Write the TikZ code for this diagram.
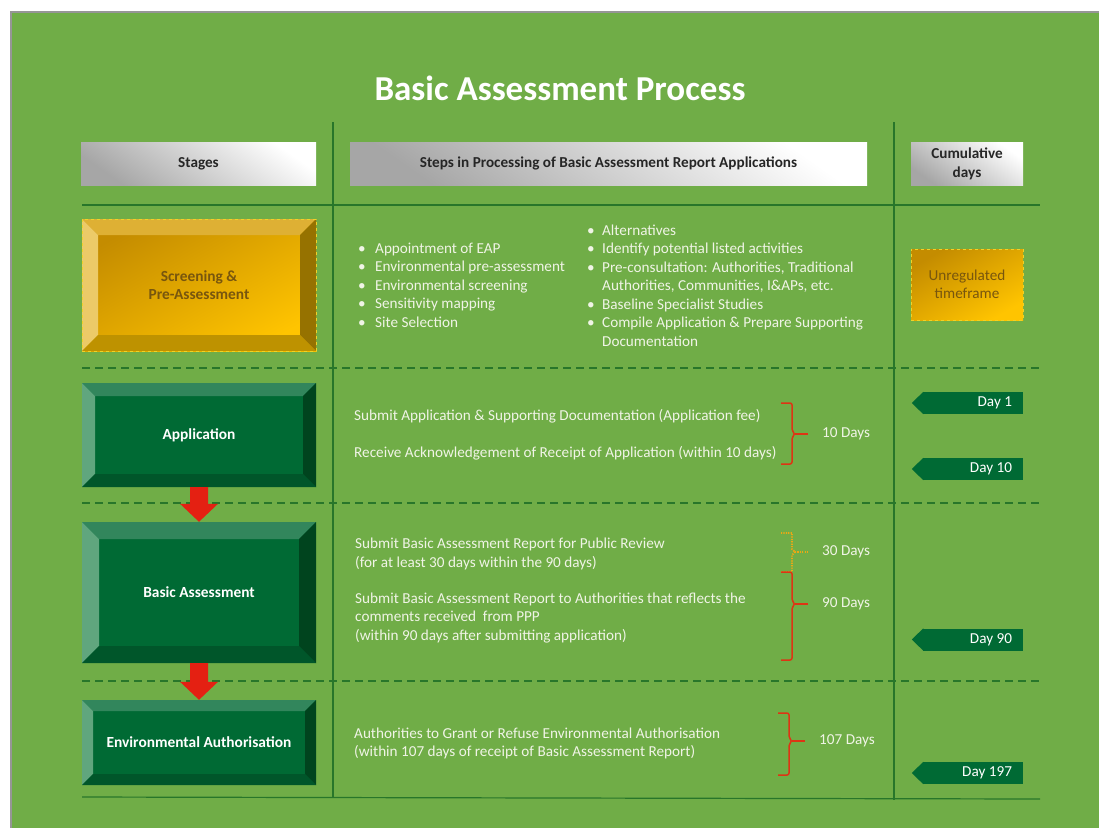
\documentclass[tikz,border=0pt]{standalone}
\usepackage{fontspec}
\setmainfont{Carlito}
\usetikzlibrary{calc}

\definecolor{bggreen}{RGB}{112,173,71}
\definecolor{framegray}{RGB}{150,150,150}
\definecolor{rulegreen}{RGB}{40,118,42}
\definecolor{stageface}{RGB}{0,106,52}
\definecolor{bvgtop}{RGB}{50,134,92}
\definecolor{bvgleft}{RGB}{96,166,126}
\definecolor{bvgright}{RGB}{0,68,30}
\definecolor{bvgbottom}{RGB}{0,86,42}
\definecolor{goldtl}{RGB}{196,140,0}
\definecolor{goldbr}{RGB}{255,196,0}
\definecolor{bvytop}{RGB}{222,176,52}
\definecolor{bvyleft}{RGB}{236,202,104}
\definecolor{bvyright}{RGB}{150,114,0}
\definecolor{bvybottom}{RGB}{190,146,0}
\definecolor{golddash}{RGB}{240,210,40}
\definecolor{goldtext}{RGB}{120,86,14}
\definecolor{headtext}{RGB}{38,38,38}
\definecolor{steptext}{RGB}{240,244,230}
\definecolor{arrowred}{RGB}{228,32,18}
\definecolor{bracered}{RGB}{222,52,20}
\definecolor{dotorange}{RGB}{236,168,20}

\newcommand\bl[1][16pt]{\makebox[#1][l]{\textbullet}}
\newcommand\bevelsides[5]{%
	\fill[#2] (path picture bounding box.north west) -- (path picture bounding box.north east) -- ([shift={(-#1,#1)}]path picture bounding box.north east) -- ([shift={(#1,#1)}]path picture bounding box.north west) -- cycle;
	\fill[#3] (path picture bounding box.north west) -- ([shift={(#1,#1)}]path picture bounding box.north west) -- ([shift={(#1,-#1)}]path picture bounding box.south west) -- (path picture bounding box.south west) -- cycle;
	\fill[#4] (path picture bounding box.north east) -- ([shift={(-#1,#1)}]path picture bounding box.north east) -- ([shift={(-#1,-#1)}]path picture bounding box.south east) -- (path picture bounding box.south east) -- cycle;
	\fill[#5] (path picture bounding box.south west) -- ([shift={(#1,-#1)}]path picture bounding box.south west) -- ([shift={(-#1,-#1)}]path picture bounding box.south east) -- (path picture bounding box.south east) -- cycle;
}
\newcommand\timebrace[4][spanbrace]{%
	\coordinate (tip) at ([xshift=-14pt]#2.west);
	\coordinate (mid) at ([xshift=-16pt]tip);
	\draw[#1] ([xshift=-11pt]mid |- 0,#3) -- (mid |- 0,#3) -- ([yshift=3pt]mid) -- ([xshift=3pt]mid) -- ([yshift=-3pt]mid) -- (mid |- 0,#4) -- ([xshift=-11pt]mid |- 0,#4);
	\draw[#1] ([xshift=3pt]mid) -- (tip);
}
\newcommand\blockarrow[2]{%
	\fill[arrowred] ([xshift=-9pt]#1.south) -- ([xshift=9pt]#1.south) -- ([shift={(9,-18)}]#2.north) -- ([shift={(19,-18)}]#2.north) -- (#2.north) -- ([shift={(-19,-18)}]#2.north) -- ([shift={(-9,-18)}]#2.north) -- cycle;
}

\tikzset{
	rule/.style={draw=rulegreen, line width=1.2pt},
	dashrule/.style={draw=rulegreen, line width=1.5pt, dash pattern=on 8pt off 5pt},
	headbox/.style={minimum height=43pt, inner sep=0pt, top color=white, bottom color=black!35, shading angle=-35, text=headtext, align=center, font=\fontsize{15.2}{19}\selectfont\bfseries},
	stage/.style={inner sep=0pt, minimum width=234pt, align=center, font=\fontsize{15.4}{18.5}\selectfont\bfseries},
	greenstage/.style={stage, fill=stageface, text=white, path picture={\bevelsides{#1}{bvgtop}{bvgleft}{bvgright}{bvgbottom}}},
	goldstage/.style={stage, top color=goldtl, bottom color=goldbr, shading angle=30, text=goldtext, draw=golddash, dashed, line width=0.6pt, path picture={\bevelsides{#1}{bvytop}{bvyleft}{bvyright}{bvybottom}}},
	goldnote/.style={minimum width=112pt, minimum height=71pt, inner sep=0pt, top color=goldtl, bottom color=goldbr, shading angle=30, draw=golddash, dashed, line width=0.6pt, text=goldtext, align=center, font=\fontsize{15.2}{18.5}\selectfont},
	steplist/.style={anchor=west, inner sep=0pt, text=steptext, align=left, font=\fontsize{15.2}{18.5}\selectfont},
	spanlabel/.style={anchor=west, inner sep=0pt, text=steptext, font=\fontsize{15.2}{17}\selectfont},
	spanbrace/.style={draw=bracered, line width=1.5pt, rounded corners=2pt},
	spandots/.style={draw=dotorange, line width=1.8pt, dash pattern=on 1.2pt off 1.2pt},
	daytag/.style={fill=stageface, text=white, minimum height=22pt, text width=78pt, inner xsep=11pt, inner ysep=0pt, align=flush right, font=\fontsize{15.2}{17}\selectfont}
}

\begin{document}
\begin{tikzpicture}[x=1pt, y=-1pt]
			%%%%% START %%%%%
			
			\useasboundingbox (0, 0) rectangle (1099, 828);
			\fill[white] (0, 0) rectangle (1099, 828);
			\fill[framegray] (10, 11) rectangle (1099, 828);
			\fill[bggreen] (12, 13) rectangle (1099, 828);
			
			\node[text=white, font=\fontsize{35}{40}\selectfont\bfseries] (title) at (560, 88) {Basic Assessment Process};
			
			% table rules
			\draw[rule] (333, 122) -- (333, 797);
			\draw[rule] (894, 122) -- (894, 800);
			\draw[rule] (82, 205) -- (1040, 205);
			\draw[rule] (82, 797) -- (1040, 799);
			\draw[dashrule] (82, 368) -- (1040, 368);
			\draw[dashrule] (82, 503) -- (1040, 503);
			\draw[dashrule] (82, 681) -- (1040, 681);
			
			% column heads
			\node[headbox, minimum width=235pt] (hstages) at (198.5, 163.5) {Stages};
			\node[headbox, minimum width=517pt] (hsteps) at (608.5, 163.5) {Steps in Processing of Basic Assessment Report Applications};
			\node[headbox, minimum width=112pt] (hdays) at (967, 163.5) {Cumulative\\days};
			
			% stages
			\node[goldstage=16, minimum height=132pt] (screen) at (199, 285) {Screening \&\\Pre-Assessment};
			\node[greenstage=13, minimum height=104pt] (app) at (199, 435) {Application};
			\node[greenstage=17, minimum height=141pt] (basic) at (199, 592.5) {Basic Assessment};
			\node[greenstage=11, minimum height=85pt] (auth) at (199, 742.5) {Environmental Authorisation};
			
			\blockarrow{app}{basic}
			\blockarrow{basic}{auth}
			
			% steps
			\node[steplist] (screenA) at (358, 285) {\bl[17pt]Appointment of EAP\\\bl[17pt]Environmental pre-assessment\\\bl[17pt]Environmental screening\\\bl[17pt]Sensitivity mapping\\\bl[17pt]Site Selection};
			\node[steplist] (screenB) at (587, 285.5) {\bl[15pt]Alternatives\\\bl[15pt]Identify potential listed activities\\\bl[15pt]Pre-consultation: Authorities, Traditional\\\hspace*{15pt}Authorities, Communities, I\&APs, etc.\\\bl[15pt]Baseline Specialist Studies\\\bl[15pt]Compile Application \& Prepare Supporting\\\hspace*{15pt}Documentation};
			
			\node[steplist] (appA) at (354, 416) {Submit Application \& Supporting Documentation (Application fee)};
			\node[steplist] (appB) at (354, 453) {Receive Acknowledgement of Receipt of Application (within 10 days)};
			
			\node[steplist] (basicA) at (355, 554) {Submit Basic Assessment Report for Public Review\\(for at least 30 days within the 90 days)};
			\node[steplist] (basicB) at (355, 618) {Submit Basic Assessment Report to Authorities that reflects the\\comments received\ \ from PPP\\(within 90 days after submitting application)};
			
			\node[steplist] (authA) at (354, 743.5) {Authorities to Grant or Refuse Environmental Authorisation\\(within 107 days of receipt of Basic Assessment Report)};
			
			% spans
			\node[spanlabel] (span10) at (822, 434) {10 Days};
			\node[spanlabel] (span30) at (822, 552) {30 Days};
			\node[spanlabel] (span90) at (822, 604) {90 Days};
			\node[spanlabel] (span107) at (819, 741) {107 Days};
			
			\timebrace{span10}{403}{464}
			\timebrace[spandots]{span30}{533}{572}
			\timebrace{span90}{572}{660}
			\timebrace{span107}{713}{775}
			
			% cumulative days
			\node[goldnote] (unreg) at (967, 284.5) {Unregulated\\timeframe};
			\node[daytag] (day1) at (973, 403) {Day 1};
			\node[daytag] (day10) at (973, 469) {Day 10};
			\node[daytag] (day90) at (973, 639.5) {Day 90};
			\node[daytag] (day197) at (973, 773) {Day 197};
			\foreach \t in {day1, day10, day90, day197}
				\fill[stageface] ([xshift=0.5pt]\t.north west) -- ([xshift=-11pt]\t.west) -- ([xshift=0.5pt]\t.south west) -- cycle;
			
			%%%%% END %%%%%
\end{tikzpicture}
\end{document}
